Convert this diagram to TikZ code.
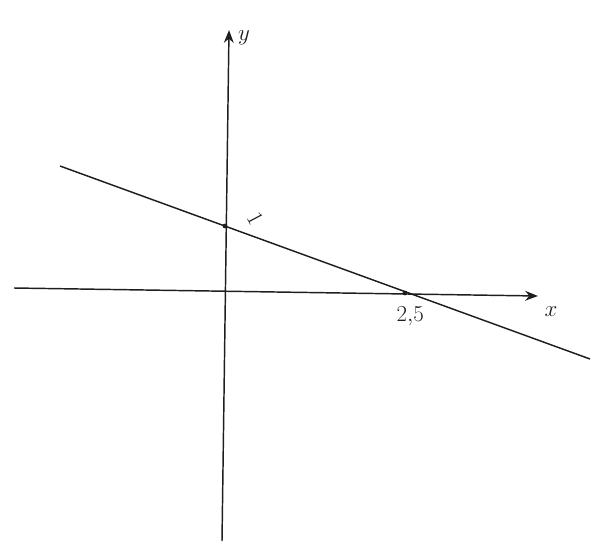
\documentclass[tikz,border=0pt]{standalone}
\usepackage{tikz}
\usetikzlibrary{positioning,arrows.meta,calc}
\definecolor{penink}{HTML}{1E1E1E}

\begin{document}
\begin{tikzpicture}[x=0.0265cm, y=-0.0265cm,
  axis/.style={draw=penink, line width=1.1pt, -{Stealth[length=3.4mm, width=2.6mm]}},
  graph/.style={draw=penink, line width=1.1pt},
  lbl/.style={font=\LARGE\itshape, text=penink, inner sep=1pt}]
\useasboundingbox (0,0) rectangle (597,551);
% ===== axes =====
\coordinate (xl) at (14,288);
\coordinate (xr) at (538,296);
\coordinate (yb) at (222,541);
\coordinate (yt) at (229,30);
\draw[axis] (xl) -- (xr);
\draw[axis] (yb) -- (yt);
\node[lbl] (ylab) at (244,38) {$y$};
\node[lbl] (xlab) at (551,312) {$x$};
% ===== line through (0,1) and (2.5,0) =====
\coordinate (p0) at (60,166);
\coordinate (p1) at (590,359);
\draw[graph] (p0) -- (p1);
\coordinate (yint) at (225,226);
\coordinate (xint) at (405,293);
\fill[penink] (yint) circle (2.4);
\fill[penink] (xint) circle (2.4);
\node[lbl, font=\LARGE, rotate=-62] (one) at (256,219) {1};
\node[lbl, below=9pt of xint, xshift=4pt] (xval) {$2{,}5$};
\end{tikzpicture}
\end{document}
